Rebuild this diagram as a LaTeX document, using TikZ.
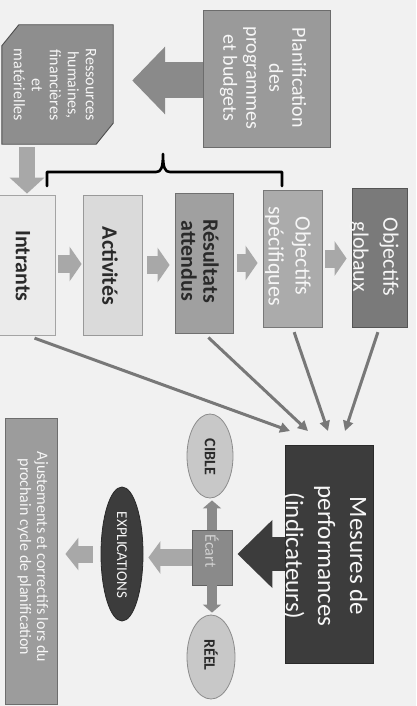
\documentclass[tikz,border=0pt]{standalone}
\usepackage{fontspec}
\setmainfont{Carlito}
\usetikzlibrary{arrows.meta,shapes.geometric,calc}

\definecolor{paper}{HTML}{F1F1F1}
\definecolor{pale}{HTML}{EBEBEB}
\definecolor{light}{HTML}{DADADA}
\definecolor{mid}{HTML}{A0A0A0}
\definecolor{midlight}{HTML}{ABABAB}
\definecolor{darkish}{HTML}{7A7A7A}
\definecolor{dark}{HTML}{3C3C3C}
\definecolor{plangray}{HTML}{9A9A9A}
\definecolor{resgray}{HTML}{8E8E8E}
\definecolor{adjgray}{HTML}{9C9C9C}
\definecolor{ecartgray}{HTML}{8A8A8A}
\definecolor{ovalgray}{HTML}{C8C8C8}
\definecolor{arrowgray}{HTML}{8A8A8A}
\definecolor{arrowlight}{HTML}{A8A8A8}
\definecolor{linegray}{HTML}{787878}
\definecolor{ink}{HTML}{2A2A2A}
\definecolor{snow}{HTML}{F6F6F6}

\newcommand\fsz[2]{\fontsize{#1}{#2}\selectfont}

\begin{document}
\begin{tikzpicture}[x=1pt,y=-1pt,
  box/.style={draw=#1!70!black, line width=0.8pt, fill=#1, inner sep=0pt},
  oval/.style={ellipse, draw=#1!70!black, line width=0.8pt, fill=#1, inner sep=0pt},
  vt/.style={rotate=-90, align=center, inner sep=0pt},
  barrow/.style args={#1/#2/#3}{line width=#1, -{Triangle[width=#2, length=#3]}},
  thin arrow/.style={draw=linegray, line width=3pt, -{Triangle[width=10pt, length=10pt]}},
  brace/.style={draw=black, line width=2.6pt, line cap=round, line join=round}
]
% page
\useasboundingbox (0,0) rectangle (416,706);
\fill[paper] (0,0) rectangle (416,706);

% ---- boxes ----
\node[minimum width=111pt, minimum height=119pt, inner sep=0pt] (res) at (57.5,84.5) {};
\draw[fill=resgray, draw=resgray!55!black, line width=0.9pt]
  ($(res.north west)+(0,21)$) -- ($(res.north west)+(17,0)$) -- (res.north east)
  -- ($(res.south east)+(0,-21)$) -- ($(res.south east)+(-17,0)$) -- (res.south west) -- cycle;

\node[box=plangray, minimum width=127pt, minimum height=137pt] (plan) at (266.5,78.5) {};

\node[box=pale, minimum width=56pt, minimum height=140pt] (intr) at (27,265) {};
\node[box=light, minimum width=59pt, minimum height=140pt] (act) at (112.5,265) {};
\node[box=mid, minimum width=58pt, minimum height=140pt] (resu) at (204,263) {};
\node[box=midlight, minimum width=59pt, minimum height=137pt] (objs) at (292.5,258.5) {};
\node[box=darkish, minimum width=55pt, minimum height=139pt] (objg) at (379.5,257.5) {};

\node[box=dark, minimum width=88pt, minimum height=218pt] (mes) at (329,554) {};
\node[box=ecartgray, minimum width=40pt, minimum height=55pt] (ecart) at (212,557.5) {};
\node[oval=ovalgray, minimum width=46pt, minimum height=84pt] (cible) at (210,456) {};
\node[oval=ovalgray, minimum width=48pt, minimum height=84pt] (reel) at (211,657) {};
\node[oval=dark, minimum width=42pt, minimum height=134pt] (expl) at (122,554) {};
\node[box=adjgray, minimum width=52pt, minimum height=286pt] (adj) at (31,561) {};

% ---- block arrows ----
\draw[barrow={36pt/66pt/33pt}, arrowgray, shorten >=19pt]
  ($(plan.west)+(0,2)$) -- ($(plan.west -| res.east)+(0,2)$);
\draw[barrow={16pt/34pt/16pt}, arrowlight, shorten <=3pt, shorten >=1pt]
  (intr.north |- res.south) -- (intr.north);
\draw[barrow={18pt/34pt/12pt}, arrowlight, shorten <=3pt, shorten >=1pt]
  ($(intr.east)+(0,-1)$) -- ($(act.west)+(0,-1)$);
\draw[barrow={18pt/34pt/12pt}, arrowlight, shorten <=5pt, shorten >=5pt] (act.east) -- (act.east -| resu.west);
\draw[barrow={18pt/34pt/12pt}, arrowlight, shorten <=4pt, shorten >=5pt] (resu.east) -- (resu.east -| objs.west);
\draw[barrow={18pt/34pt/12pt}, arrowlight, shorten <=3pt, shorten >=5pt] (objs.east) -- (objs.east -| objg.west);

\draw[barrow={34pt/66pt/35pt}, dark, shorten >=5pt] (mes.west) -- (mes.west -| ecart.east);
\draw[barrow={10pt/18pt/8pt}, arrowgray, shorten >=2pt] (ecart.north) -- (ecart.north |- cible.south);
\draw[barrow={10pt/18pt/8pt}, arrowgray, shorten >=2pt] (ecart.south) -- (ecart.south |- reel.north);
\draw[barrow={17pt/32pt/12pt}, arrowlight, shorten >=5pt] (ecart.west) -- (ecart.west -| expl.east);
\draw[barrow={17pt/32pt/13pt}, arrowlight, shorten <=8pt, shorten >=8pt] (expl.west) -- (expl.west -| adj.east);

% ---- bracket over the chain ----
\draw[brace] (47,186) -- (47,172) -- (156,172)
  .. controls (161,172) and (163,168) .. (163,154)
  .. controls (163,168) and (165,172) .. (170,172) -- (282,172) -- (282,186);

% ---- links to the performance measures ----
\coordinate (t1) at (290,431);
\coordinate (t2) at (308,431);
\coordinate (t3) at (328,431);
\coordinate (t4) at (345,431);
\draw[thin arrow, shorten <=8pt] (intr.south) -- (t1);
\draw[thin arrow, shorten <=6pt] (resu.south) -- (t2);
\draw[thin arrow, shorten <=5pt] (objs.south) -- (t3);
\draw[thin arrow, shorten <=5pt] (objg.south) -- (t4);

% ---- texts ----
\node[vt, text=snow, font=\fsz{16}{18}] (res-t) at (55,85)
  {Ressources\\humaines,\\financières\\et\\matérielles};
\node[vt, text=snow, font=\fsz{20}{23}] (plan-t) at (263,78)
  {Planification\\des\\programmes\\et budgets};
\node[vt, text=ink, font=\fsz{22}{22}\bfseries] (intr-t) at (23,266) {Intrants};
\node[vt, text=ink, font=\fsz{22}{22}\bfseries] (act-t) at (110,266) {Activités};
\node[vt, text=ink, font=\fsz{22}{22}\bfseries] (resu-t) at (200,261) {Résultats\\attendus};
\node[vt, text=snow, font=\fsz{22}{27}] (objs-t) at (288,256) {Objectifs\\spécifiques};
\node[vt, text=snow, font=\fsz{22}{30}] (objg-t) at (374,257) {Objectifs\\globaux};
\node[vt, text=snow, font=\fsz{25}{32}] (mes-t) at (325,556) {Mesures de\\performances\\(indicateurs)};
\node[vt, text=snow!85!black, font=\fsz{16}{18}] (ecart-t) at (212,551) {Écart};
\node[vt, text=ink, font=\fsz{16}{18}\bfseries] (cible-t) at (210,457) {CIBLE};
\node[vt, text=ink, font=\fsz{16}{18}\bfseries] (reel-t) at (211,655) {RÉEL};
\node[vt, text=snow, font=\fsz{15}{17}] (expl-t) at (122,555) {EXPLICATIONS};
\node[vt, text=snow, font=\fsz{16}{17}] (adj-t) at (33,557)
  {Ajustements et correctifs lors du\\prochain cycle de planification};
\end{tikzpicture}
\end{document}
